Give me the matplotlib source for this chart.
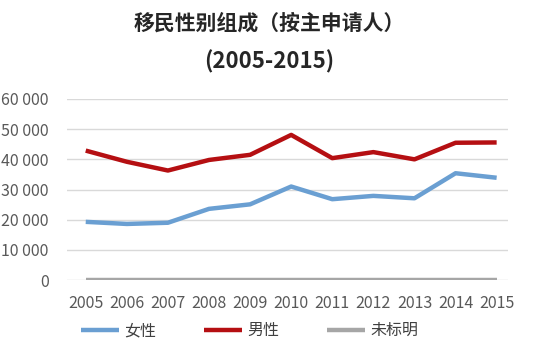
import matplotlib.pyplot as plt
from matplotlib.ticker import FuncFormatter

plt.rcParams['font.family'] = ['Noto Sans CJK SC', 'DejaVu Sans']

years = [2005, 2006, 2007, 2008, 2009, 2010, 2011, 2012, 2013, 2014, 2015]
female = [19300, 18600, 19000, 23600, 25100, 31000, 26800, 27900, 27100, 35400, 33900]
male = [42900, 39200, 36300, 39800, 41500, 48100, 40400, 42400, 40000, 45500, 45600]
unknown = [0, 0, 0, 0, 0, 0, 0, 0, 0, 0, 0]
labels = ['女性', '男性', '未标明']
colors = ['#6A9FD2', '#B50F12', '#A6A6A6']

fig = plt.figure(figsize=(5.39, 3.51), dpi=100)
ax = fig.add_axes([0.124, 0.202, 0.818, 0.516])

for vals, lab, col in zip([female, male, unknown], labels, colors):
    ax.plot(years, vals, color=col, lw=3.2, label=lab, solid_capstyle='butt')

ax.set_ylim(0, 60000)
ax.set_xlim(2004.54, 2015.27)
ax.set_yticks(range(0, 60001, 10000))
ax.set_xticks(years)
ax.yaxis.set_major_formatter(FuncFormatter(lambda v, p: f'{int(v):,}'.replace(',', ' ')))
ax.grid(axis='y', color='#D9D9D9', lw=1)
ax.set_axisbelow(True)
for s in ax.spines.values():
    s.set_visible(False)
ax.tick_params(length=0, labelsize=11.5, colors='#595959')
ax.tick_params(axis='x', pad=11)
ax.tick_params(axis='y', pad=13)

fig.text(0.5, 0.935, '移民性别组成（按主申请人）', ha='center', va='center',
         fontsize=15, fontweight='bold', color='#262626')
fig.text(0.5, 0.823, '(2005-2015)', ha='center', va='center',
         fontsize=16, fontweight='bold', color='#262626')

fig.legend(loc='center', bbox_to_anchor=(0.463, 0.058), ncol=3, frameon=False,
           fontsize=11.5, handlelength=2.4, columnspacing=3.0, handletextpad=0.3,
           labelcolor='#404040')

fig.savefig('out.png', dpi=100, facecolor='white')
